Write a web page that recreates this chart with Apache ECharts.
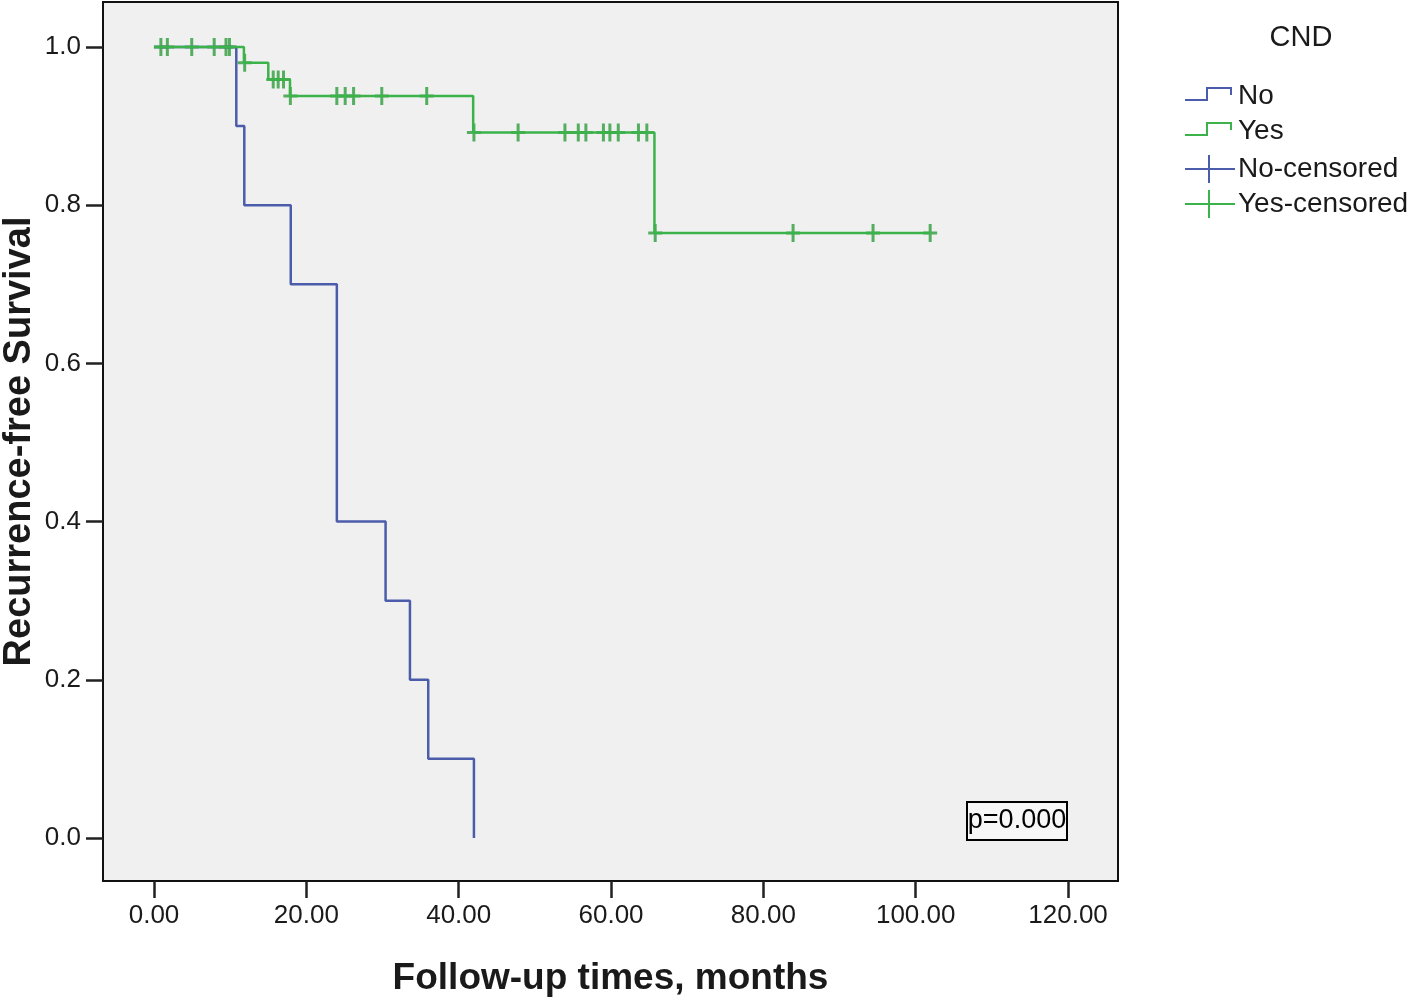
<!DOCTYPE html>
<html>
<head>
<meta charset="utf-8">
<script src="https://cdn.jsdelivr.net/npm/echarts@6/dist/echarts.min.js"></script>
<style>
  html, body { margin: 0; padding: 0; background: #fff; }
  #chart { width: 1416px; height: 1001px; }
</style>
</head>
<body>
<div id="chart"></div>
<script>
// Kaplan-Meier steps, CND = No
const noTimes = [0, 10.8, 11.85, 17.95, 24.0, 30.4, 33.6, 36.0, 42.0]
const noSurv = [1, 0.9, 0.8, 0.7, 0.4, 0.3, 0.2, 0.1, 0]
// CND = Yes
const yesTimes = [0, 11.8, 15.0, 17.85, 41.9, 65.7, 101.9]
const yesSurv = [1, 0.980, 0.959, 0.938, 0.892, 0.765, 0.765]
// censored cases (Yes group)
const yesCensorTimes = [0.9, 1.75, 4.95, 7.9, 9.45, 9.9, 11.9, 15.65, 16.3, 17.0, 17.9, 24.0, 25.1, 26.2, 29.9, 35.8,
  42.0, 47.8, 53.95, 55.7, 56.7, 59.0, 59.85, 60.95, 63.6, 64.7, 65.8, 83.9, 94.4, 101.9]
const yesCensorSurv = [1, 1, 1, 1, 1, 1, 0.980, 0.959, 0.959, 0.959, 0.938, 0.938, 0.938, 0.938, 0.938, 0.938,
  0.892, 0.892, 0.892, 0.892, 0.892, 0.892, 0.892, 0.892, 0.892, 0.892, 0.765, 0.765, 0.765, 0.765]
const noCensorTimes = []
const noCensorSurv = []
const xTicks = [0, 20, 40, 60, 80, 100, 120]
const yTicks = [0, 0.2, 0.4, 0.6, 0.8, 1.0]

const blue = '#4b5caa'
const green = '#3cb34a'
const greenMark = '#2e9e3c'
const cross = 'path://M5.5,0h3v7.5h5.5v3h-5.5v7.5h-3v-7.5h-5.5v-3h5.5z'
const font = '"Liberation Sans", Arial, sans-serif'

const zip = (xs, ys) => xs.map((x, i) => [x, ys[i]])

const chart = echarts.init(document.getElementById('chart'))
const option = {
  backgroundColor: '#fff',
  animation: false,
  grid: {
    left: 103,
    top: 2,
    right: 298,
    bottom: 120,
    outerBoundsMode: 'none',
    containLabel: false,
    show: true,
    backgroundColor: '#f0f0f0',
    borderColor: '#111',
    borderWidth: 2
  },
  xAxis: {
    type: 'value',
    min: -6.7,
    max: 126.56,
    name: 'Follow-up times, months',
    nameLocation: 'middle',
    nameGap: 79,
    nameMoveOverlap: false,
    nameTextStyle: { fontFamily: font, fontSize: 37, fontWeight: 'bold', color: '#1a1a1a' },
    axisLine: { show: false, onZero: false },
    splitLine: { show: false },
    axisTick: { show: true, length: 17, customValues: xTicks, lineStyle: { color: '#222', width: 2.5 } },
    axisLabel: {
      customValues: xTicks,
      margin: 22,
      fontFamily: font,
      fontSize: 26,
      color: '#1a1a1a',
      formatter: v => v.toFixed(2)
    }
  },
  yAxis: {
    type: 'value',
    min: -0.0544,
    max: 1.0569,
    name: 'Recurrence-free Survival',
    nameLocation: 'middle',
    nameGap: 64,
    nameMoveOverlap: false,
    nameTextStyle: { fontFamily: font, fontSize: 38, fontWeight: 'bold', color: '#1a1a1a' },
    axisLine: { show: false, onZero: false },
    splitLine: { show: false },
    axisTick: { show: true, length: 17, customValues: yTicks, lineStyle: { color: '#222', width: 2.5 } },
    axisLabel: {
      customValues: yTicks,
      margin: 22,
      fontFamily: font,
      fontSize: 26,
      color: '#1a1a1a',
      formatter: v => v.toFixed(1)
    }
  },
  series: [
    {
      name: 'No',
      type: 'line',
      step: 'end',
      showSymbol: false,
      data: zip(noTimes, noSurv),
      lineStyle: { color: blue, width: 2.5 },
      itemStyle: { color: blue }
    },
    {
      name: 'Yes',
      type: 'line',
      step: 'end',
      showSymbol: false,
      data: zip(yesTimes, yesSurv),
      lineStyle: { color: green, width: 2.5 },
      itemStyle: { color: green }
    },
    {
      name: 'No-censored',
      type: 'scatter',
      symbol: cross,
      symbolSize: [14, 18],
      data: zip(noCensorTimes, noCensorSurv),
      itemStyle: { color: blue }
    },
    {
      name: 'Yes-censored',
      type: 'scatter',
      symbol: cross,
      symbolSize: [14, 18],
      data: zip(yesCensorTimes, yesCensorSurv),
      itemStyle: { color: greenMark }
    }
  ],
  graphic: [
    { type: 'text', style: { text: 'CND', x: 1301, y: 38, align: 'center', verticalAlign: 'middle', font: '29px ' + font, fill: '#1a1a1a' } },
    { type: 'polyline', shape: { points: [[1185, 100], [1207, 100], [1207, 88], [1231, 88], [1231, 95]] }, style: { stroke: blue, lineWidth: 2, fill: null } },
    { type: 'text', style: { text: 'No', x: 1238, y: 96, align: 'left', verticalAlign: 'middle', font: '28px ' + font, fill: '#1a1a1a' } },
    { type: 'polyline', shape: { points: [[1185, 135], [1207, 135], [1207, 123], [1231, 123], [1231, 130]] }, style: { stroke: green, lineWidth: 2, fill: null } },
    { type: 'text', style: { text: 'Yes', x: 1238, y: 131, align: 'left', verticalAlign: 'middle', font: '28px ' + font, fill: '#1a1a1a' } },
    { type: 'polyline', shape: { points: [[1185, 169], [1235, 169]] }, style: { stroke: blue, lineWidth: 2 } },
    { type: 'polyline', shape: { points: [[1209, 155], [1209, 183]] }, style: { stroke: blue, lineWidth: 2 } },
    { type: 'text', style: { text: 'No-censored', x: 1238, y: 169, align: 'left', verticalAlign: 'middle', font: '28px ' + font, fill: '#1a1a1a' } },
    { type: 'polyline', shape: { points: [[1185, 204], [1235, 204]] }, style: { stroke: green, lineWidth: 2 } },
    { type: 'polyline', shape: { points: [[1209, 190], [1209, 218]] }, style: { stroke: green, lineWidth: 2 } },
    { type: 'text', style: { text: 'Yes-censored', x: 1238, y: 204, align: 'left', verticalAlign: 'middle', font: '28px ' + font, fill: '#1a1a1a' } },
    { type: 'rect', z: 10, shape: { x: 967, y: 802, width: 100, height: 38 }, style: { fill: '#f7f7f7', stroke: '#000', lineWidth: 2 } },
    { type: 'text', z: 11, style: { text: 'p=0.000', x: 1017, y: 821, align: 'center', verticalAlign: 'middle', font: '27px ' + font, fill: '#000' } }
  ]
}
chart.setOption(option)
window.addEventListener('resize', () => chart.resize())
</script>
</body>
</html>
